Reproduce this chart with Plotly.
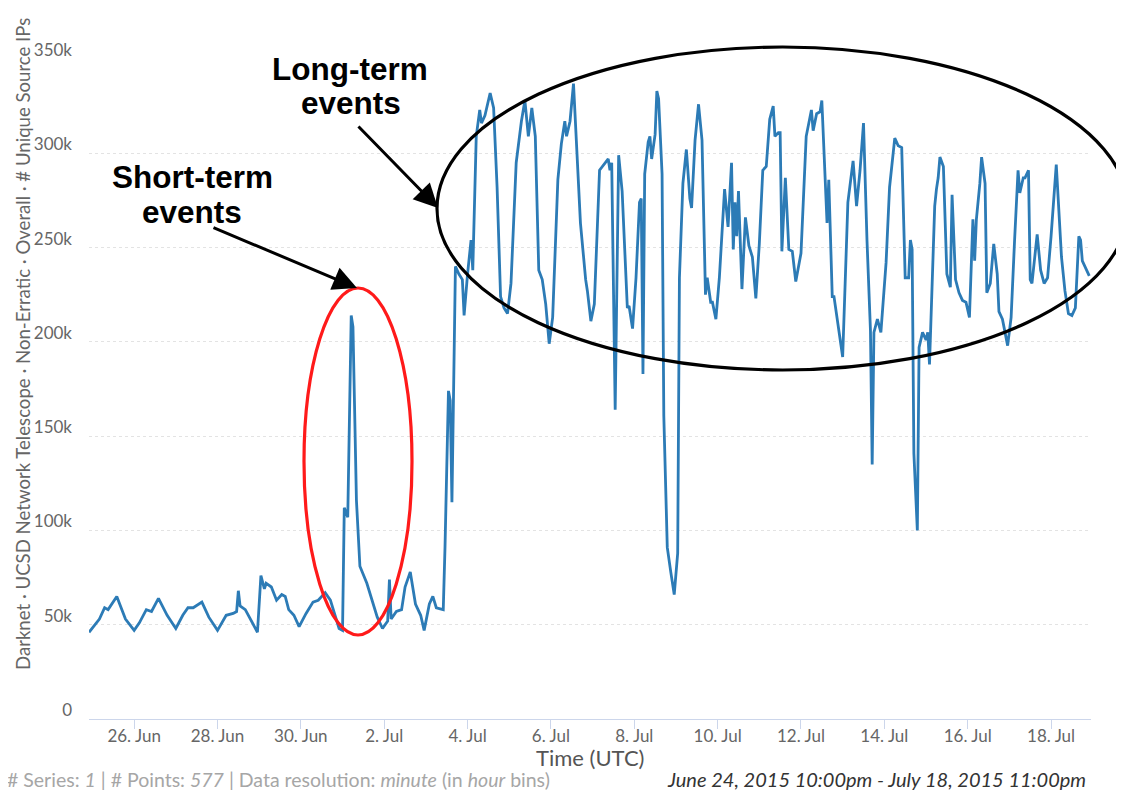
import pandas as pd
import plotly.graph_objects as go

# hourly bins, counted from the first bin (24 Jun 2015 22:00 UTC)
start = pd.Timestamp("2015-06-24 22:00")
hours = [0, 6, 9, 11, 16, 21, 26, 29, 33, 36, 40, 45, 50, 54, 57, 60, 65, 69, 74, 79,
         83, 85, 86, 87, 90, 97, 99, 101, 102, 105, 108, 111, 113, 115, 118, 121,
         125, 129, 132, 136, 139, 144, 146, 147, 149, 151, 152, 154, 156, 160, 166, 169,
         172, 173, 174, 177, 180, 182, 185, 188, 191, 193, 196, 198, 200, 204, 205, 207,
         208, 209, 211,
         213, 215, 216, 218, 220, 221, 223, 225, 226, 228, 231, 233, 235, 237, 239, 241,
         243, 246, 249, 251, 253, 255, 257, 259, 261, 263, 265, 267, 270, 272, 274, 275,
         277, 279, 280, 283, 286, 287, 289, 291, 294,
         297, 299, 300, 301, 303, 305, 307, 310, 311, 313, 315, 317, 318, 319, 320, 322,
         323, 324, 326, 327, 328, 330, 331, 333, 335, 337, 339, 340, 342, 344, 346, 347,
         349, 351, 353, 355, 356, 358, 359, 361, 363, 366, 368, 370, 371, 372, 373, 374,
         376, 378, 380, 382, 384,
         386, 388, 390, 392, 394, 395, 397, 398, 399, 401, 403, 405, 407, 410, 413, 416,
         417, 419, 421, 422, 424, 425, 426, 428, 429, 431, 434, 437, 440, 442, 444, 446,
         447, 448, 450, 451, 452, 454, 456, 459, 461, 464, 466, 468, 470, 472, 473, 474,
         475, 477, 478, 480, 482, 483,
         484, 487, 488, 489, 490, 492, 494, 496, 497, 499, 501, 503, 505, 507, 509, 510,
         511, 513, 514, 516, 517, 519, 521, 523, 524, 526, 529, 531, 533, 535, 536, 538,
         539, 541, 542, 543, 546, 548, 550, 552, 554, 557, 560, 562, 564, 566, 568, 570,
         571, 572, 576]

# unique source IPs, in thousands
unique_ips_k = [46, 53, 59, 58, 65, 53, 47, 51, 58, 57, 64, 55, 48, 55, 59, 59, 62, 54, 47, 55,
                56, 57, 68, 60, 58, 46, 76, 69, 72, 70, 63, 66, 65, 58, 55, 49,
                56, 62, 63, 67, 63, 48, 47, 112, 107, 214, 208, 116, 81, 72, 54, 48,
                52, 74, 53, 57, 58, 70, 78, 61, 55, 47, 61, 65, 59, 58, 91, 174,
                169, 115, 240,
                236, 233, 214, 236, 254, 238, 309, 323, 316, 320, 332, 324, 282, 224, 218, 215,
                231, 295, 317, 328, 309, 324, 309, 238, 233, 220, 199, 213, 286, 305, 317, 309,
                317, 337, 317, 263, 233, 227, 211, 220, 291,
                295, 297, 291, 295, 164, 299, 280, 218, 219, 207, 234, 274, 276, 183, 289, 306,
                309, 297, 310, 333, 329, 289, 161, 91, 78, 66, 88, 234, 284, 302, 276, 271,
                307, 326, 307, 225, 234, 221, 221, 212, 234, 281, 261, 295, 249, 274, 256, 280,
                228, 266, 251, 245, 223,
                252, 291, 293, 318, 325, 309, 311, 311, 248, 287, 249, 248, 232, 247, 309, 323,
                312, 321, 322, 328, 286, 263, 286, 224, 224, 212, 192, 274, 296, 272, 291, 316,
                284, 254, 206, 135, 205, 212, 205, 242, 282, 308, 304, 303, 234, 234, 254, 249,
                141, 100, 197, 205, 201, 205,
                188, 272, 281, 287, 298, 293, 236, 229, 278, 233, 226, 222, 221, 213, 265, 243,
                265, 284, 298, 284, 226, 231, 252, 236, 216, 212, 198, 213, 254, 291, 279, 287,
                287, 291, 233, 231, 257, 238, 231, 234, 256, 294, 245, 227, 215, 214, 218, 256,
                254, 243, 235]

times = start + pd.to_timedelta(hours, unit="h")
values = [v * 1000 for v in unique_ips_k]

# the html page puts an 8px body margin around the figure, so the figure is
# made 8px smaller and everything is laid out in window pixels minus that
PAGE = 8
FIG_W, FIG_H = 1124 - PAGE, 792 - PAGE

# plot area in window pixels (used to place the hand-drawn marks)
L, R, T, B = 89, 1091, 59, 719
W, H = R - L, B - T


def px(x):
    return (x - L) / W


def py(y):
    return (B - y) / H


fig = go.Figure()
fig.add_trace(go.Scatter(x=times, y=values, mode="lines",
                         line=dict(color="#2c7bb6", width=2.8), hoverinfo="x+y"))

tick_font = dict(family="Lato", size=17, color="#666666")
fig.update_layout(
    width=FIG_W, height=FIG_H,
    margin=dict(l=L - PAGE, r=1124 - R, t=T - PAGE, b=792 - B),
    paper_bgcolor="white", plot_bgcolor="white",
    showlegend=False,
    font=dict(family="Lato"),
    xaxis=dict(type="date", range=[start, start + pd.Timedelta(hours=577)],
               tick0="2015-06-26", dtick=2 * 86400000, tickformat="%-d. %b",
               showgrid=False, showline=True, linecolor="#ccd6eb", linewidth=1,
               ticks="outside", ticklen=9, tickcolor="#ccd6eb", tickfont=tick_font,
               ticklabelstandoff=-7),
    yaxis=dict(range=[0, 350000], dtick=50000, tickformat="~s",
               showgrid=True, gridcolor="#e3e3e3", griddash="dot", gridwidth=1,
               zeroline=False, showline=False, ticks="", ticklabelstandoff=16,
               ticklabelshift=-9, tickfont=tick_font),
)

# circles drawn on the chart
fig.add_shape(type="circle", xref="paper", yref="paper",
              x0=px(304), x1=px(412), y0=py(635), y1=py(288),
              line=dict(color="#ff1a1a", width=3.2))
fig.add_shape(type="circle", xref="paper", yref="paper",
              x0=px(437), x1=px(1128), y0=py(370), y1=py(47),
              line=dict(color="black", width=3.2))

# arrows
for tip, tail in [((438, 208), (357, 125)), ((357, 288), (212, 227))]:
    fig.add_annotation(xref="paper", yref="paper", x=px(tip[0]), y=py(tip[1]),
                       ax=tail[0] - tip[0], ay=tail[1] - tip[1], text="",
                       showarrow=True, arrowhead=2, arrowsize=1.6, arrowwidth=3,
                       arrowcolor="black", standoff=0)

label_font = dict(family="Liberation Sans, Arial", size=31.5, color="black")
for text, x, y in [("<b>Long-term</b>", 350, 69), ("<b>events</b>", 351, 103),
                   ("<b>Short-term</b>", 192, 177), ("<b>events</b>", 192, 212)]:
    fig.add_annotation(xref="paper", yref="paper", x=px(x), y=py(y), text=text,
                       showarrow=False, xanchor="center", yanchor="middle", font=label_font)

# axis titles
fig.add_annotation(xref="paper", yref="paper", x=px(23), y=py(672), textangle=-90,
                   text="Darknet · UCSD Network Telescope · Non-Erratic · Overall · # Unique Source IPs",
                   showarrow=False, xanchor="center", yanchor="bottom",
                   font=dict(family="Lato", size=18.6, color="#666666"))
fig.add_annotation(xref="paper", yref="paper", x=0.5, y=py(757), text="Time (UTC)",
                   showarrow=False, xanchor="center", yanchor="middle",
                   font=dict(family="Lato", size=22, color="#555555"))

# footer
fig.add_annotation(xref="paper", yref="paper", x=px(5), y=py(779),
                   text="# Series: <i>1</i> | # Points: <i>577</i> | Data resolution: <i>minute</i> (in <i>hour</i> bins)",
                   showarrow=False, xanchor="left", yanchor="middle",
                   font=dict(family="Lato", size=19.5, color="#a6a6a6"))
fig.add_annotation(xref="paper", yref="paper", x=px(1088), y=py(779),
                   text="<i>June 24, 2015 10:00pm - July 18, 2015 11:00pm</i>",
                   showarrow=False, xanchor="right", yanchor="middle",
                   font=dict(family="Lato", size=20, color="#333333"))

fig.write_html("out.html")
